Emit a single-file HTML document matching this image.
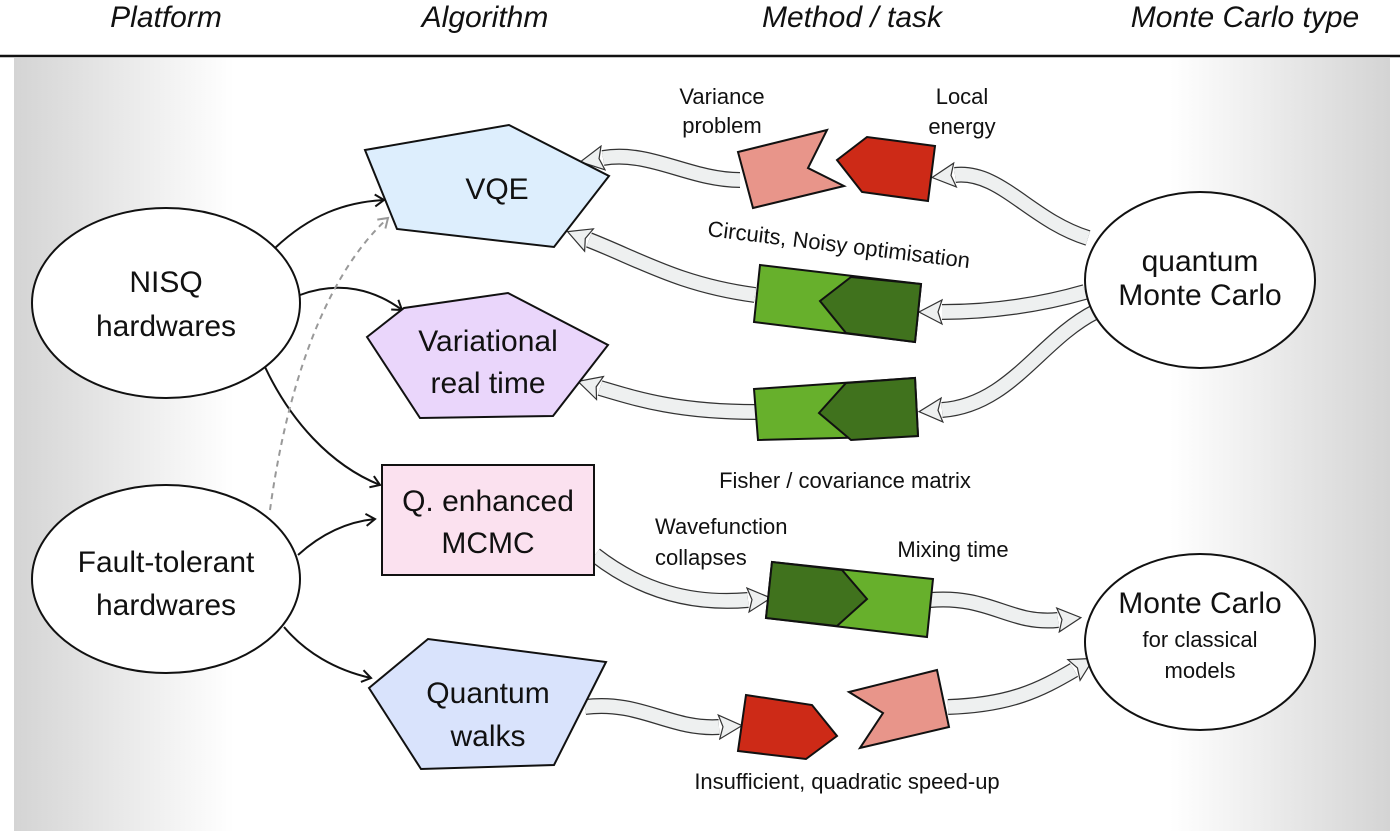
<!DOCTYPE html>
<html><head><meta charset="utf-8"><style>
html,body{margin:0;padding:0;background:#fff;}
svg{display:block;font-family:"Liberation Sans",sans-serif;}
</style></head><body>
<svg width="1400" height="831" viewBox="0 0 1400 831" xmlns="http://www.w3.org/2000/svg">
<defs>
<linearGradient id="bg" x1="0" x2="1" y1="0" y2="0">
<stop offset="0" stop-color="#d4d4d4"/>
<stop offset="0.16" stop-color="#ffffff"/>
<stop offset="0.84" stop-color="#ffffff"/>
<stop offset="1" stop-color="#d4d4d4"/>
</linearGradient>
<marker id="wh" markerUnits="userSpaceOnUse" markerWidth="32" markerHeight="32" refX="1" refY="14" orient="auto" viewBox="0 0 32 32">
<path d="M1,2 L24,14 L1,26 L5,14 z" fill="#eef0f0" stroke="#333" stroke-width="1.2"/>
</marker>
<marker id="bh" markerUnits="userSpaceOnUse" markerWidth="16" markerHeight="16" refX="11" refY="8" orient="auto" viewBox="0 0 16 16">
<path d="M2,2 L11,8 L2,14" fill="none" stroke="#111" stroke-width="2"/>
</marker>
<marker id="gh" markerUnits="userSpaceOnUse" markerWidth="16" markerHeight="16" refX="11" refY="8" orient="auto" viewBox="0 0 16 16">
<path d="M2,2 L11,8 L2,14" fill="none" stroke="#999" stroke-width="2"/>
</marker>
</defs>
<rect x="14" y="58" width="1376" height="773" fill="url(#bg)"/>
<line x1="0" y1="56" x2="1400" y2="56" stroke="#111" stroke-width="2.5"/>
<g font-style="italic" font-size="30" text-anchor="middle" fill="#111">
<text x="166" y="27">Platform</text>
<text x="485" y="27">Algorithm</text>
<text x="852" y="27">Method / task</text>
<text x="1245" y="27">Monte Carlo type</text>
</g>

<g fill="none">
<g stroke="#333" stroke-width="16">
<path d="M740,180 C690,180 650,150 603,158"/>
<path d="M1088,238 C1030,220 1000,170 955,175"/>
<path d="M1085,292 C1040,305 990,312 942,312"/>
<path d="M1095,312 C1040,340 1010,405 942,410"/>
<path d="M755,295 C680,285 640,260 589,240"/>
<path d="M756,412 C680,412 640,400 600,388"/>
<path d="M595,555 C640,590 690,605 748,600"/>
<path d="M930,600 C990,595 1010,625 1058,620"/>
<path d="M585,707 C640,700 670,730 719,727"/>
<path d="M948,707 C1010,705 1040,690 1074,670"/>
</g>
<g stroke="#eef0f0" stroke-width="13.5" marker-end="url(#wh)">
<path d="M740,180 C690,180 650,150 603,158"/>
<path d="M1088,238 C1030,220 1000,170 955,175"/>
<path d="M1085,292 C1040,305 990,312 942,312"/>
<path d="M1095,312 C1040,340 1010,405 942,410"/>
<path d="M755,295 C680,285 640,260 589,240"/>
<path d="M756,412 C680,412 640,400 600,388"/>
<path d="M595,555 C640,590 690,605 748,600"/>
<path d="M930,600 C990,595 1010,625 1058,620"/>
<path d="M585,707 C640,700 670,730 719,727"/>
<path d="M948,707 C1010,705 1040,690 1074,670"/>
</g>
</g>

<g fill="none" stroke="#111" stroke-width="2" marker-end="url(#bh)">
<path d="M275,248 C310,215 345,202 384,200"/>
<path d="M300,295 C340,280 375,290 402,310"/>
<path d="M265,367 C290,420 330,465 380,485"/>
<path d="M298,555 C320,535 345,522 375,519"/>
<path d="M284,627 C305,652 335,670 371,678"/>
</g>
<path d="M270,510 C285,400 320,280 388,218" fill="none" stroke="#999" stroke-width="2" stroke-dasharray="6,5" marker-end="url(#gh)"/>

<g fill="#fff" stroke="#111" stroke-width="2">
<ellipse cx="166" cy="303" rx="134" ry="95"/>
<ellipse cx="166" cy="579" rx="134" ry="94"/>
<ellipse cx="1200" cy="280" rx="115" ry="88"/>
<ellipse cx="1200" cy="642" rx="115" ry="88"/>
</g>

<g stroke="#111" stroke-width="2">
<polygon points="365,150 509,125 609,176 554,247 397,229" fill="#ddeefd"/>
<polygon points="367,337 404,308 508,293 608,345 553,416 420,418" fill="#ead6fb"/>
<rect x="382" y="465" width="212" height="110" fill="#fbe1ef"/>
<polygon points="369,688 428,639 606,662 554,765 421,769" fill="#d9e3fc"/>
</g>

<g stroke="#111" stroke-width="2">
<polygon points="738,152 827,130 808,168 844,186 753,208" fill="#e8958a"/>
<polygon points="837,160 867,137 935,146 928,201 862,192" fill="#cd2a17"/>
<polygon points="760,265 921,284 915,342 754,322" fill="#67b02c"/>
<polygon points="851,277 921,284 915,342 846,333 820,301" fill="#40721d"/>
<polygon points="754,389 915,378 918,436 758,440" fill="#67b02c"/>
<polygon points="846,383 915,378 918,436 851,440 819,413" fill="#40721d"/>
<polygon points="772,562 933,579 927,637 766,618" fill="#67b02c"/>
<polygon points="772,562 842,570 867,599 837,626 766,618" fill="#40721d"/>
<polygon points="746,695 812,705 837,736 806,759 738,751" fill="#cd2a17"/>
<polygon points="849,692 937,670 949,727 860,748 883,713" fill="#e8958a"/>
</g>

<g font-size="30" text-anchor="middle" fill="#111">
<text x="166" y="292">NISQ</text>
<text x="166" y="336">hardwares</text>
<text x="166" y="572">Fault-tolerant</text>
<text x="166" y="615">hardwares</text>
<text x="497" y="199">VQE</text>
<text x="488" y="351">Variational</text>
<text x="488" y="393">real time</text>
<text x="488" y="511">Q. enhanced</text>
<text x="488" y="553">MCMC</text>
<text x="488" y="703">Quantum</text>
<text x="488" y="746">walks</text>
<text x="1200" y="271">quantum</text>
<text x="1200" y="305">Monte Carlo</text>
<text x="1200" y="613">Monte Carlo</text>
</g>
<g font-size="22" text-anchor="middle" fill="#111">
<text x="1200" y="647">for classical</text>
<text x="1200" y="678">models</text>
<text x="722" y="104">Variance</text>
<text x="722" y="133">problem</text>
<text x="962" y="104">Local</text>
<text x="962" y="134">energy</text>
<text x="845" y="488">Fisher / covariance matrix</text>
<text x="655" y="534" text-anchor="start">Wavefunction</text>
<text x="655" y="565" text-anchor="start">collapses</text>
<text x="953" y="557">Mixing time</text>
<text x="847" y="789">Insufficient, quadratic speed-up</text>
<text x="838" y="252" transform="rotate(7 838 252)">Circuits, Noisy optimisation</text>
</g>
</svg>
</body></html>
